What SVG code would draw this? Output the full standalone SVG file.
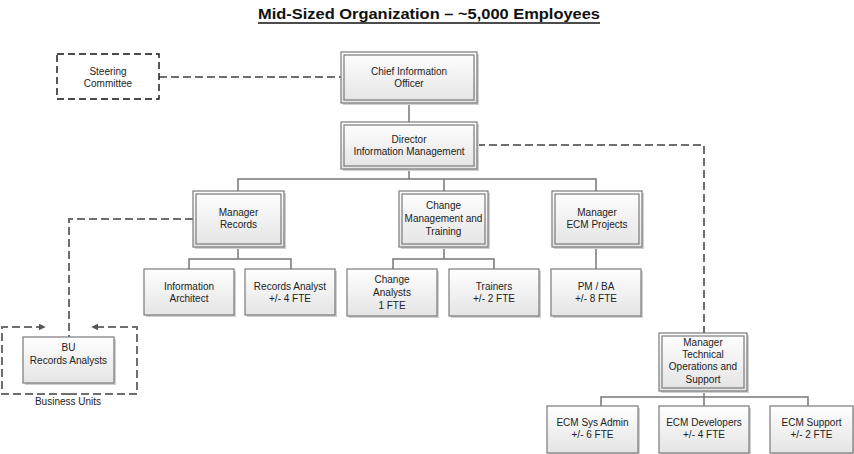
<svg xmlns="http://www.w3.org/2000/svg" width="854" height="454" viewBox="0 0 854 454">
<defs>
<linearGradient id="g" x1="0" y1="0" x2="0" y2="1">
<stop offset="0" stop-color="#ffffff"/>
<stop offset="1" stop-color="#e4e4e4"/>
</linearGradient>
<marker id="arr" viewBox="0 0 10 10" refX="9" refY="5" markerWidth="7" markerHeight="7" markerUnits="userSpaceOnUse" orient="auto">
<path d="M0,0 L10,5 L0,10 z" fill="#555"/>
</marker>
</defs>
<style>
text{font-family:"Liberation Sans",Arial,sans-serif;font-size:10px;fill:#222;text-anchor:middle}
.title{font-size:15px;font-weight:bold;fill:#111}
.box{fill:url(#g);stroke:#7a7a7a;stroke-width:1.2}
.inner{fill:none;stroke:#7a7a7a;stroke-width:1.2}
.shadow{fill:#d0d0d0}
.con{fill:none;stroke:#777;stroke-width:1.5}
.dash{fill:none;stroke:#6e6e6e;stroke-width:2;stroke-dasharray:8,4}
.sc{fill:#fff;stroke:#111;stroke-width:1.4;stroke-dasharray:7,4}
</style>
<rect width="854" height="454" fill="#fff"/>
<text class="title" x="429" y="19" textLength="342" lengthAdjust="spacingAndGlyphs">Mid-Sized Organization – ~5,000 Employees</text>
<line x1="258" y1="23" x2="600" y2="23" stroke="#111" stroke-width="1.3"/>

<g id="connectors">
<path class="dash" d="M159,77 H341"/>
<path class="dash" d="M477,145 H704 V333"/>
<path class="dash" d="M193,219 H69 V337"/>
<path class="dash" d="M69,394 H2 V327 H45" marker-end="url(#arr)"/>
<path class="dash" d="M69,394 H137 V327 H92" marker-end="url(#arr)"/>
<path class="con" d="M409,103 V122"/>
<path class="con" d="M409,169 V179"/>
<path class="con" d="M238,191 V179 H596 V191"/>
<path class="con" d="M444,179 V191"/>
<path class="con" d="M238,247 V259"/>
<path class="con" d="M189,269 V259 H291 V269"/>
<path class="con" d="M444,247 V259"/>
<path class="con" d="M393,269 V259 H494 V269"/>
<path class="con" d="M596,247 V269"/>
<path class="con" d="M704,391 V397"/>
<path class="con" d="M601,406 V397 H808 V406"/>
<path class="con" d="M704,397 V406"/>
</g>

<g id="steering">
<rect class="sc" x="57" y="54" width="102" height="45"/>
<text x="108" y="74.5">Steering</text>
<text x="108" y="86.5">Committee</text>
</g>

<g id="cio">
<rect class="shadow" x="343" y="54" width="136" height="51"/>
<rect class="box" x="341" y="52" width="136" height="51"/>
<rect class="inner" x="344" y="55" width="130" height="45"/>
<text x="409" y="74.5">Chief Information</text>
<text x="409" y="86.5">Officer</text>
</g>

<g id="director">
<rect class="shadow" x="343" y="124" width="136" height="47"/>
<rect class="box" x="341" y="122" width="136" height="47"/>
<rect class="inner" x="344" y="125" width="130" height="41"/>
<text x="409" y="142.5">Director</text>
<text x="409" y="154.5">Information Management</text>
</g>

<g id="mgr_records">
<rect class="shadow" x="195" y="193" width="91" height="56"/>
<rect class="box" x="193" y="191" width="91" height="56"/>
<rect class="inner" x="196" y="194" width="85" height="50"/>
<text x="238.5" y="215.5">Manager</text>
<text x="238.5" y="227.5">Records</text>
</g>

<g id="change_mgmt">
<rect class="shadow" x="401" y="193" width="89" height="56"/>
<rect class="box" x="399" y="191" width="89" height="56"/>
<rect class="inner" x="402" y="194" width="83" height="50"/>
<text x="443.5" y="209">Change</text>
<text x="443.5" y="222">Management and</text>
<text x="443.5" y="235">Training</text>
</g>

<g id="mgr_ecm">
<rect class="shadow" x="554" y="193" width="90" height="56"/>
<rect class="box" x="552" y="191" width="90" height="56"/>
<rect class="inner" x="555" y="194" width="84" height="50"/>
<text x="597" y="215.5">Manager</text>
<text x="597" y="227.5">ECM Projects</text>
</g>

<g id="info_architect">
<rect class="shadow" x="146" y="271" width="90" height="46"/>
<rect class="box" x="144" y="269" width="90" height="46"/>
<text x="189" y="289.5">Information</text>
<text x="189" y="301.5">Architect</text>
</g>

<g id="records_analyst">
<rect class="shadow" x="247" y="271" width="90" height="46"/>
<rect class="box" x="245" y="269" width="90" height="46"/>
<text x="290" y="289.5">Records Analyst</text>
<text x="290" y="301.5">+/- 4 FTE</text>
</g>

<g id="change_analysts">
<rect class="shadow" x="349" y="271" width="90" height="47"/>
<rect class="box" x="347" y="269" width="90" height="47"/>
<text x="392" y="282.5">Change</text>
<text x="392" y="295.5">Analysts</text>
<text x="392" y="308.5">1 FTE</text>
</g>

<g id="trainers">
<rect class="shadow" x="451" y="271" width="90" height="47"/>
<rect class="box" x="449" y="269" width="90" height="47"/>
<text x="494" y="289.5">Trainers</text>
<text x="494" y="301.5">+/- 2 FTE</text>
</g>

<g id="pm_ba">
<rect class="shadow" x="553" y="271" width="90" height="47"/>
<rect class="box" x="551" y="269" width="90" height="47"/>
<text x="596" y="289.5">PM / BA</text>
<text x="596" y="301.5">+/- 8 FTE</text>
</g>

<g id="bu_records_analysts">
<rect class="shadow" x="25" y="339" width="91" height="46"/>
<rect class="box" x="23" y="337" width="91" height="46"/>
<text x="68.5" y="351">BU</text>
<text x="68.5" y="364">Records Analysts</text>
</g>

<g id="business_units_label">
<text x="68" y="404.5">Business  Units</text>
</g>

<g id="mgr_tech">
<rect class="shadow" x="661" y="335" width="88" height="58"/>
<rect class="box" x="659" y="333" width="88" height="58"/>
<rect class="inner" x="662" y="336" width="82" height="52"/>
<text x="703" y="345.5">Manager</text>
<text x="703" y="357.5">Technical</text>
<text x="703" y="369.5">Operations and</text>
<text x="703" y="382.5">Support</text>
</g>

<g id="ecm_sysadmin">
<rect class="shadow" x="549" y="408" width="91" height="47"/>
<rect class="box" x="547" y="406" width="91" height="47"/>
<text x="592.5" y="425.5">ECM Sys Admin</text>
<text x="592.5" y="437.5">+/- 6 FTE</text>
</g>

<g id="ecm_developers">
<rect class="shadow" x="661" y="408" width="90" height="47"/>
<rect class="box" x="659" y="406" width="90" height="47"/>
<text x="704" y="425.5">ECM Developers</text>
<text x="704" y="437.5">+/- 4 FTE</text>
</g>

<g id="ecm_support">
<rect class="shadow" x="772" y="408" width="83" height="47"/>
<rect class="box" x="770" y="406" width="83" height="47"/>
<text x="811.5" y="425.5">ECM Support</text>
<text x="811.5" y="437.5">+/- 2 FTE</text>
</g>
</svg>
